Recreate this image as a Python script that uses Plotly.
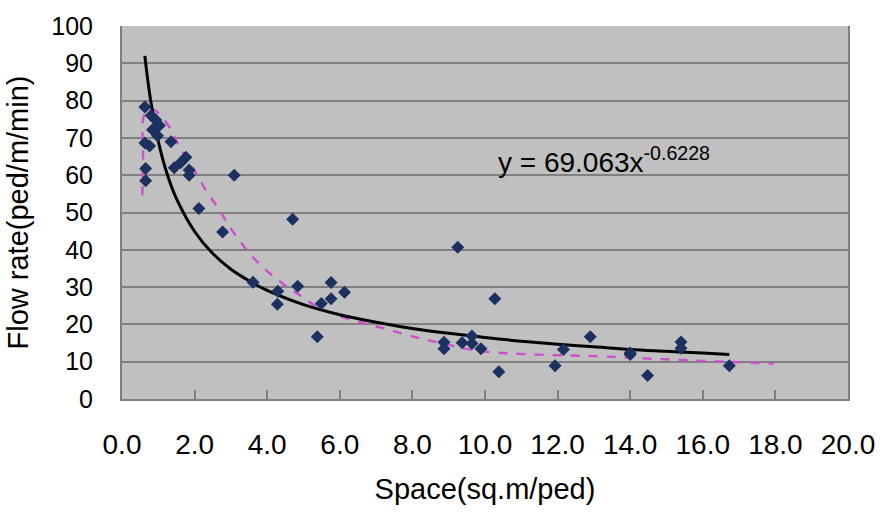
import plotly.graph_objects as go

# Observed data points (space sq.m/ped, flow rate ped/m/min)
space = [0.63, 0.80, 0.93, 1.03, 0.84, 0.98, 0.63, 0.76, 1.35, 1.76, 1.62, 1.44,
         1.85, 1.85, 0.65, 0.65, 3.09, 2.12, 4.70, 2.77, 3.61, 4.84, 4.29, 4.28,
         5.76, 6.13, 5.76, 5.49, 5.38, 9.25, 10.27, 8.87, 8.87, 9.37, 9.64, 9.64,
         9.89, 10.38, 11.93, 12.16, 12.90, 14.00, 14.00, 14.48, 15.40, 15.40, 16.73]
flow = [78.3, 76.0, 74.8, 73.3, 72.2, 70.6, 68.6, 67.8, 69.0, 64.8, 63.4, 62.0,
        61.4, 60.0, 61.8, 58.5, 60.0, 51.1, 48.2, 44.8, 31.3, 30.2, 28.9, 25.4,
        31.2, 28.6, 26.9, 25.6, 16.7, 40.7, 26.9, 15.2, 13.5, 15.1, 16.9, 14.9,
        13.5, 7.3, 8.9, 13.3, 16.7, 12.3, 11.9, 6.3, 15.3, 13.6, 8.9]

# Power trendline (black)
trend_x = [0.63, 0.7, 0.8, 1.0, 1.25, 1.5, 2.0, 2.5, 3.0, 3.5, 4.0, 5.0, 6.0, 7.0,
           8.0, 9.0, 10.0, 11.0, 12.0, 13.0, 14.0, 15.0, 16.0, 16.73]
trend_y = [92.0, 86.2, 79.4, 69.1, 60.1, 53.7, 44.9, 39.0, 34.8, 31.7, 29.1, 25.3,
           22.6, 20.6, 18.9, 17.6, 16.5, 15.5, 14.7, 14.0, 13.3, 12.8, 12.3, 11.9]

# Dashed magenta curve
dash_x = [0.56, 0.58, 0.63, 0.85, 1.3, 1.53, 1.8, 2.07, 2.34, 2.66, 2.93, 3.39,
          3.84, 4.38, 4.84, 5.38, 5.92, 6.47, 7.19, 8.0, 8.82, 9.82, 11.17, 12.99,
          14.8, 16.6, 17.96]
dash_y = [54.6, 64.0, 76.5, 77.6, 73.0, 68.6, 64.2, 60.0, 55.5, 51.0, 46.7, 40.5,
          35.7, 31.3, 28.2, 24.7, 22.5, 20.8, 19.0, 16.8, 14.9, 12.9, 12.0, 11.5,
          10.7, 10.0, 9.5]

x_ticks = [0, 2, 4, 6, 8, 10, 12, 14, 16, 18, 20]
x_labels = ["0.0", "2.0", "4.0", "6.0", "8.0", "10.0", "12.0", "14.0", "16.0", "18.0", "20.0"]
y_ticks = [0, 10, 20, 30, 40, 50, 60, 70, 80, 90, 100]

equation = "y = 69.063x<sup>-0.6228</sup>"
eq_pos = (10.3, 64.0)

FONT = "Liberation Sans, Arial, sans-serif"

fig = go.Figure()
fig.add_trace(go.Scatter(x=dash_x, y=dash_y, mode="lines",
                         line=dict(color="#cc4fcc", width=2.4, dash="dash", shape="spline"),
                         hoverinfo="skip", showlegend=False))
fig.add_trace(go.Scatter(x=trend_x, y=trend_y, mode="lines",
                         line=dict(color="#000000", width=3, shape="spline"),
                         showlegend=False))
fig.add_trace(go.Scatter(x=space, y=flow, mode="markers",
                         marker=dict(symbol="diamond", size=10, color="#1c3160",
                                     line=dict(width=0)),
                         showlegend=False))

fig.add_annotation(x=eq_pos[0], y=eq_pos[1], text=equation, showarrow=False,
                   xanchor="left", yanchor="middle",
                   font=dict(family=FONT, size=28, color="#000000"))

fig.update_layout(
    width=887, height=512,
    margin=dict(l=122, r=29, t=21, b=111),
    paper_bgcolor="#ffffff", plot_bgcolor="#c0c0c0",
    font=dict(family=FONT, color="#000000"),
    showlegend=False,
)
fig.update_xaxes(range=[0, 20], tickvals=x_ticks, ticktext=x_labels,
                 showgrid=False, zeroline=False,
                 showline=True, linecolor="#7f7f7f", linewidth=2,
                 ticks="inside", ticklen=9, tickcolor="#7f7f7f", tickwidth=1.5,
                 ticklabelstandoff=19,
                 tickfont=dict(family=FONT, size=28, color="#000000"),
                 title=dict(text="Space(sq.m/ped)", standoff=20,
                            font=dict(family=FONT, size=29, color="#000000")))
fig.update_yaxes(range=[0, 100], tickvals=y_ticks,
                 showgrid=True, gridcolor="#808080", gridwidth=1.5,
                 zeroline=False,
                 showline=True, linecolor="#7f7f7f", linewidth=2, mirror=True,
                 ticks="", ticklabelstandoff=22,
                 tickfont=dict(family=FONT, size=25, color="#000000"),
                 title=dict(text="Flow rate(ped/m/min)", standoff=14,
                            font=dict(family=FONT, size=29, color="#000000")))

fig.write_html("out.html")
